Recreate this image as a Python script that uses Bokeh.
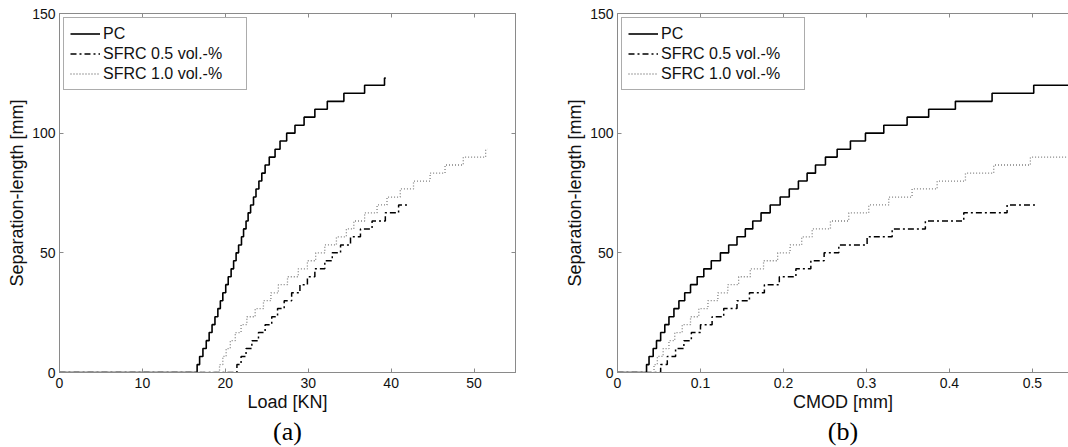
from bokeh.plotting import figure
from bokeh.layouts import row
from bokeh.models import Range1d, FixedTicker, LinearAxis, Legend, Title
from bokeh.embed import file_html
from bokeh.resources import INLINE

# ---------------- data ----------------
# (a) Separation-length vs Load
load_pc_x = [0, 16.6, 16.9, 17.3, 17.7, 18.05, 18.4, 18.75, 19.1, 19.4, 19.7, 20.05, 20.35, 20.7,
             21.0, 21.3, 21.6, 21.95, 22.2, 22.5, 22.75, 23.05, 23.4, 23.7, 24.05, 24.4, 24.8,
             25.3, 26.0, 26.6, 27.4, 28.4, 29.5, 30.8, 32.3, 34.3, 36.8, 39.2, 39.35]
load_pc_y = [0, 3.3, 6.7, 10.0, 13.3, 16.7, 20.0, 23.3, 26.7, 30.0, 33.3, 36.7, 40.0, 43.3,
             46.7, 50.0, 53.3, 56.7, 60.0, 63.3, 66.7, 70.0, 73.3, 76.7, 80.0, 83.3, 86.7,
             90.0, 93.3, 96.7, 100.0, 103.3, 106.7, 110.0, 113.3, 116.7, 120.0, 123.0, 123.0]

load_s05_x = [0, 21.4, 21.9, 22.5, 23.2, 24.0, 24.8, 25.6, 26.3, 27.1, 28.0, 29.0, 29.9,
              30.8, 32.0, 32.9, 33.9, 35.1, 36.3, 37.7, 39.3, 40.9, 42.1]
load_s05_y = [0, 3.3, 6.7, 10.0, 13.3, 16.7, 20.0, 23.3, 26.7, 30.0, 33.3, 36.7, 40.0,
              43.3, 46.7, 50.0, 53.3, 56.7, 60.0, 63.3, 66.7, 70.0, 70.0]

load_s10_x = [0, 19.3, 19.7, 20.1, 20.6, 21.2, 21.9, 22.6, 23.6, 24.6, 25.5, 26.4, 27.5,
              28.8, 29.9, 30.9, 32.0, 33.4, 34.6, 35.5, 36.8, 38.3, 39.5, 41.1, 42.7, 44.7,
              46.5, 48.7, 51.4, 51.6]
load_s10_y = [0, 3.3, 6.7, 10.0, 13.3, 16.7, 20.0, 23.3, 26.7, 30.0, 33.3, 36.7, 40.0,
              43.3, 46.7, 50.0, 53.3, 56.7, 60.0, 63.3, 66.7, 70.0, 73.3, 76.7, 80.0, 83.3,
              86.7, 90.0, 93.3, 93.3]

# (b) Separation-length vs CMOD
cmod_pc_x = [0, 0.035, 0.038, 0.043, 0.047, 0.052, 0.057, 0.062, 0.068, 0.074, 0.081, 0.088,
             0.096, 0.104, 0.113, 0.124, 0.134, 0.144, 0.154, 0.163, 0.173, 0.184, 0.196,
             0.207, 0.218, 0.2285, 0.2386, 0.2506, 0.2647, 0.2807, 0.2988, 0.3209, 0.349,
             0.375, 0.4072, 0.4514, 0.5016, 0.55]
cmod_pc_y = [0, 3.3, 6.7, 10.0, 13.3, 16.7, 20.0, 23.3, 26.7, 30.0, 33.3, 36.7,
             40.0, 43.3, 46.7, 50.0, 53.3, 56.7, 60.0, 63.3, 66.7, 70.0, 73.3,
             76.7, 80.0, 83.3, 86.7, 90.0, 93.3, 96.7, 100.0, 103.3, 106.7,
             110.0, 113.3, 116.7, 120.0, 120.0]

cmod_s05_x = [0, 0.052, 0.060, 0.070, 0.080, 0.089, 0.100, 0.114, 0.128, 0.144, 0.159,
              0.177, 0.195, 0.215, 0.233, 0.249, 0.2667, 0.3008, 0.331, 0.371, 0.4173,
              0.4695, 0.5036]
cmod_s05_y = [0, 3.3, 6.7, 10.0, 13.3, 16.7, 20.0, 23.3, 26.7, 30.0, 33.3,
              36.7, 40.0, 43.3, 46.7, 50.0, 53.3, 56.7, 60.0, 63.3, 66.7,
              70.0, 70.0]

cmod_s10_x = [0, 0.044, 0.048, 0.055, 0.062, 0.069, 0.078, 0.088, 0.098, 0.109, 0.121,
              0.133, 0.146, 0.160, 0.176, 0.193, 0.208, 0.222, 0.2346, 0.2566, 0.2787,
              0.3028, 0.3269, 0.355, 0.3852, 0.4193, 0.4534, 0.4976, 0.55]
cmod_s10_y = [0, 3.3, 6.7, 10.0, 13.3, 16.7, 20.0, 23.3, 26.7, 30.0, 33.3,
              36.7, 40.0, 43.3, 46.7, 50.0, 53.3, 56.7, 60.0, 63.3, 66.7,
              70.0, 73.3, 76.7, 80.0, 83.3, 86.7, 90.0, 90.0]

series_names = ["PC", "SFRC 0.5 vol.-%", "SFRC 1.0 vol.-%"]
y_ticks = [0, 50, 100, 150]
load_ticks = [0, 10, 20, 30, 40, 50]
cmod_ticks = [0, 0.1, 0.2, 0.3, 0.4, 0.5]

# ---------------- styling ----------------
AX = "#8a8a8a"
SANS = "Liberation Sans"
styles = [
    dict(line_color="#000000", line_width=1.6),
    dict(line_color="#000000", line_width=1.5, line_dash="6 3 2 3"),
    dict(line_color="#808080", line_width=1.3, line_dash="1 2"),
]


def style_axis(ax, labels=True):
    ax.axis_line_color = AX
    ax.major_tick_line_color = AX
    ax.major_tick_in = 4
    ax.major_tick_out = 0
    ax.minor_tick_line_color = None
    if labels:
        ax.major_label_text_font = SANS
        ax.major_label_text_font_size = "14px"
        ax.major_label_text_color = "#111111"
        ax.major_label_standoff = 4
        ax.axis_label_text_font = SANS
        ax.axis_label_text_font_size = "18px"
        ax.axis_label_text_font_style = "normal"
        ax.axis_label_text_color = "#111111"
        ax.axis_label_standoff = 2
    else:
        ax.major_label_text_font_size = "2px"
        ax.major_label_text_color = None
        ax.major_label_standoff = 0


def make(xs, ys, xr, xticks, xlabel, tag, width, border_right, right_axis, overrides=None):
    p = figure(width=width, height=447, output_backend="svg", toolbar_location=None,
               x_range=Range1d(*xr), y_range=Range1d(0, 150),
               min_border_left=59, min_border_right=border_right,
               min_border_top=13, min_border_bottom=75)
    p.background_fill_color = "white"
    p.border_fill_color = "white"
    p.grid.visible = False
    p.outline_line_color = AX if right_axis else None

    renderers = []
    for x, y, st, name in zip(xs, ys, styles, series_names):
        r = p.step(x, y, mode="after", **st)
        renderers.append((name, [r]))

    p.xaxis.ticker = FixedTicker(ticks=xticks)
    p.yaxis.ticker = FixedTicker(ticks=y_ticks)
    p.xaxis.axis_label = xlabel
    p.yaxis.axis_label = "Separation-length [mm]"
    if overrides:
        p.xaxis.major_label_overrides = overrides
    style_axis(p.xaxis[0])
    style_axis(p.yaxis[0])
    p.xaxis.major_label_standoff = 5
    p.xaxis.axis_label_standoff = 1

    top = LinearAxis(ticker=FixedTicker(ticks=xticks))
    style_axis(top, labels=False)
    p.add_layout(top, "above")
    if right_axis:
        rt = LinearAxis(ticker=FixedTicker(ticks=y_ticks))
        style_axis(rt, labels=False)
        p.add_layout(rt, "right")

    legend = Legend(items=renderers, location="top_left", margin=4, padding=6,
                    spacing=1, label_height=19, glyph_height=19, glyph_width=30,
                    label_standoff=3, label_width=137,
                    label_text_font=SANS, label_text_font_size="16px",
                    label_text_color="#111111",
                    border_line_color="#5a5a5a", border_line_width=1,
                    background_fill_color="white", background_fill_alpha=1)
    p.add_layout(legend)

    p.add_layout(Title(text=tag, align="center", text_font="Liberation Serif",
                       text_font_size="26px", text_font_style="normal",
                       text_color="#000000", standoff=0, offset=0), "below")
    return p


p1 = make([load_pc_x, load_s05_x, load_s10_x], [load_pc_y, load_s05_y, load_s10_y],
          (0, 55), load_ticks, "Load [KN]", "(a)", 558, 43, True)
p2 = make([cmod_pc_x, cmod_s05_x, cmod_s10_x], [cmod_pc_y, cmod_s05_y, cmod_s10_y],
          (0, 0.5435), cmod_ticks, "CMOD [mm]", "(b)", 510, 0, False,
          overrides={0: "0"})

layout = row(p1, p2, spacing=0)
open("out.html", "w").write(file_html(layout, INLINE))
